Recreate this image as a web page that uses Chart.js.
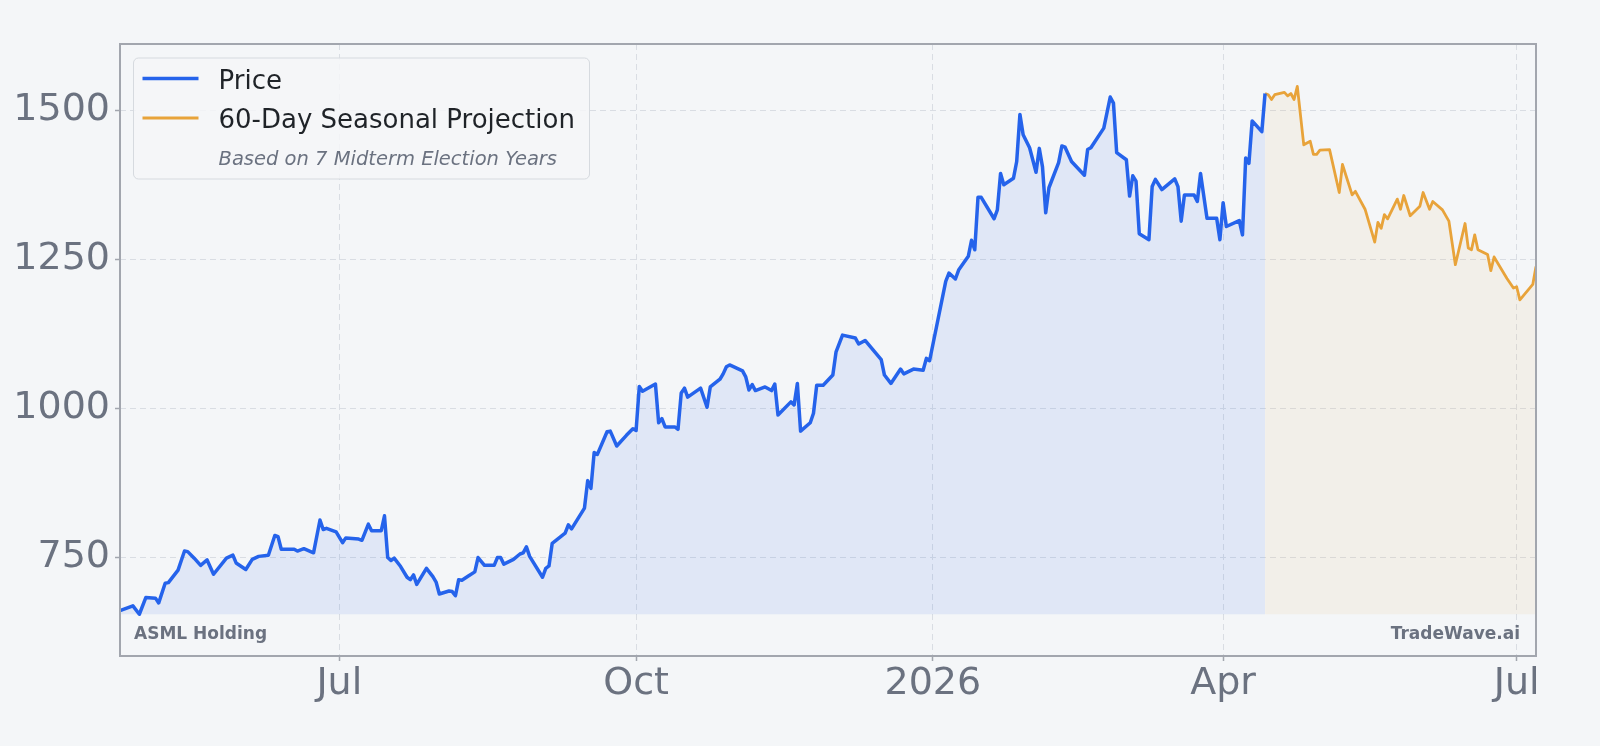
<!DOCTYPE html>
<html>
<head>
<meta charset="utf-8">
<title>ASML Holding - Price and 60-Day Seasonal Projection</title>
<script src="https://cdn.jsdelivr.net/npm/chart.js@4.4.1/dist/chart.umd.min.js"></script>
<style>
    html, body { margin: 0; padding: 0; background: #f4f6f8; }
    canvas { display: block; }
</style>
</head>
<body>
<canvas id="seasonalChart" width="1600" height="746"></canvas>
<script>
// All x values are days counted from 2025-07-01
const BASE_DATE = '2025-07-01';

// Daily close
const priceDays = [
    -68, -64, -62, -60, -57, -56, -54, -53, -50, -48, -47, -45, -43, -41, -39, -35, -33, -32, -29, -27,
    -25, -22, -20, -19, -18, -14, -13, -11, -8, -6, -5, -4, -1, 1, 2, 6, 7, 9, 10, 13,
    14, 15, 16, 17, 19, 21, 22, 23, 24, 27, 29, 30, 31, 34, 35, 36, 37, 38, 40, 42,
    43, 45, 48, 49, 50, 51, 54, 56, 57, 58, 59, 63, 64, 65, 66, 70, 71, 72, 76, 77,
    78, 79, 80, 83, 84, 86, 89, 91, 92, 93, 94, 98, 99, 100, 101, 104, 105, 106, 107, 108,
    112, 114, 115, 118, 119, 120, 121, 125, 126, 127, 128, 129, 132, 134, 135, 136, 140, 141, 142, 143,
    146, 147, 148, 150, 153, 154, 156, 160, 161, 163, 168, 169, 171, 174, 175, 178, 181, 182, 183, 188,
    189, 191, 192, 195, 196, 197, 198, 199, 203, 204, 205, 206, 209, 210, 211, 212, 214, 216, 217, 218,
    219, 220, 223, 224, 225, 227, 231, 232, 233, 237, 239, 240, 241, 244, 245, 246, 247, 248, 251, 252,
    253, 255, 259, 260, 261, 262, 265, 266, 267, 269, 272, 273, 274, 275, 279, 280, 281, 282, 283, 286,
    287
];
const priceValues = [
    661, 669, 655, 683, 682, 674, 707, 708, 729, 761, 760, 749, 737, 746, 722, 749, 754, 741, 730, 747,
    752, 754, 787, 785, 764, 764, 761, 765, 758, 813, 797, 799, 793, 775, 783, 781, 779, 806, 795, 795,
    820, 750, 745, 749, 735, 717, 713, 721, 705, 732, 718, 709, 689, 694, 693, 686, 713, 712, 719, 726,
    750, 737, 737, 750, 750, 739, 747, 756, 758, 768, 752, 717, 732, 736, 774, 791, 805, 798, 833, 879,
    866, 926, 923, 961, 962, 937, 955, 966, 963, 1037, 1029, 1041, 976, 983, 969, 969, 965, 1026, 1034, 1019,
    1034, 1002, 1036, 1049, 1058, 1070, 1073, 1063, 1053, 1031, 1040, 1030, 1036, 1030, 1041, 989, 1011, 1006, 1042, 962,
    976, 992, 1039, 1039, 1056, 1095, 1123, 1118, 1108, 1114, 1082, 1056, 1042, 1066, 1058, 1066, 1064, 1084, 1080, 1213,
    1227, 1217, 1232, 1255, 1282, 1266, 1354, 1354, 1318, 1333, 1394, 1375, 1386, 1414, 1493, 1459, 1437, 1396, 1436, 1405,
    1328, 1370, 1412, 1440, 1438, 1414, 1391, 1434, 1437, 1470, 1522, 1512, 1429, 1417, 1356, 1390, 1381, 1293, 1283, 1372,
    1384, 1367, 1385, 1372, 1314, 1358, 1358, 1347, 1394, 1319, 1319, 1283, 1345, 1305, 1315, 1291, 1420, 1411, 1482, 1464,
    1528
];

// 60-day seasonal projection (midterm election years)
const projectionDays = [
    287, 288, 289, 290, 293, 294, 295, 296, 297, 299, 301, 302, 303, 304, 307, 310, 311, 314, 315, 318,
    321, 322, 323, 324, 325, 328, 329, 330, 332, 335, 336, 338, 339, 342, 344, 346, 349, 350, 351, 352,
    353, 356, 357, 358, 362, 364, 365, 366, 370, 371
];
const projectionValues = [
    1528, 1526, 1518, 1526, 1530, 1524, 1528, 1518, 1540, 1442, 1448, 1426, 1426, 1433, 1434, 1362, 1409, 1358, 1364, 1334,
    1279, 1312, 1302, 1325, 1318, 1351, 1334, 1357, 1323, 1339, 1362, 1334, 1347, 1333, 1314, 1241, 1310, 1269, 1266, 1291,
    1266, 1258, 1231, 1254, 1218, 1202, 1204, 1182, 1208, 1238
];

// Axis ticks
const xTickDates = ['2025-07-01', '2025-10-01', '2026-01-01', '2026-04-01', '2026-07-01'];
const xTickLabels = ['Jul', 'Oct', '2026', 'Apr', 'Jul'];
const yTicks = [750, 1000, 1250, 1500];

function toDay(dateStr) {
    const [y, m, d] = dateStr.split('-').map(Number);
    const [by, bm, bd] = BASE_DATE.split('-').map(Number);
    return Math.round((Date.UTC(y, m - 1, d) - Date.UTC(by, bm - 1, bd)) / 86400000);
}

const fillBase = Math.min(...priceValues);
const tickFont = { size: 38, family: 'DejaVu Sans' };

// Frame, watermarks and the legend box
const decorations = {
    id: 'decorations',
    beforeDraw(chart) {
        const ctx = chart.ctx;
        ctx.save();
        ctx.fillStyle = '#f4f6f8';
        ctx.fillRect(0, 0, chart.width, chart.height);
        ctx.restore();
    },
    afterDraw(chart) {
        const { ctx, chartArea: a } = chart;
        ctx.save();

        ctx.strokeStyle = '#a2a6ae';
        ctx.lineWidth = 2;
        ctx.strokeRect(a.left, a.top, a.right - a.left, a.bottom - a.top);

        ctx.font = 'bold 17px "DejaVu Sans"';
        ctx.fillStyle = '#6b7280';
        ctx.textBaseline = 'alphabetic';
        ctx.textAlign = 'left';
        ctx.fillText('ASML Holding', a.left + 14, a.bottom - 17);
        ctx.textAlign = 'right';
        ctx.fillText('TradeWave.ai', a.right - 16, a.bottom - 17);

        // legend
        const lx = a.left + 13.5, ly = a.top + 14;
        ctx.beginPath();
        ctx.roundRect(lx, ly, 456, 121, 5);
        ctx.fillStyle = 'rgba(244, 246, 248, 0.85)';
        ctx.fill();
        ctx.strokeStyle = '#d6dadf';
        ctx.lineWidth = 1;
        ctx.stroke();

        ctx.lineCap = 'butt';
        ctx.strokeStyle = '#2563eb';
        ctx.lineWidth = 3.5;
        ctx.beginPath();
        ctx.moveTo(lx + 9, ly + 20.5);
        ctx.lineTo(lx + 65, ly + 20.5);
        ctx.stroke();

        ctx.strokeStyle = '#e8a33a';
        ctx.lineWidth = 2.8;
        ctx.beginPath();
        ctx.moveTo(lx + 9, ly + 60);
        ctx.lineTo(lx + 65, ly + 60);
        ctx.stroke();

        ctx.textAlign = 'left';
        ctx.fillStyle = '#1f2328';
        ctx.font = '26px "DejaVu Sans"';
        ctx.fillText('Price', lx + 85, ly + 31);
        ctx.fillText('60-Day Seasonal Projection', lx + 85, ly + 70);

        ctx.fillStyle = '#6b7280';
        ctx.font = 'italic 19.5px "DejaVu Sans"';
        ctx.fillText('Based on 7 Midterm Election Years', lx + 85, ly + 107);

        ctx.restore();
    }
};

const ctx = document.getElementById('seasonalChart').getContext('2d');
const seasonalChart = new Chart(ctx, {
    type: 'line',
    data: {
        datasets: [{
            label: 'Price',
            data: priceDays.map((d, i) => ({ x: d, y: priceValues[i] })),
            borderColor: '#2563eb',
            backgroundColor: 'rgba(37, 99, 235, 0.095)',
            borderWidth: 3.5,
            borderJoinStyle: 'round',
            pointRadius: 0,
            tension: 0,
            fill: { value: fillBase }
        }, {
            label: '60-Day Seasonal Projection',
            data: projectionDays.map((d, i) => ({ x: d, y: projectionValues[i] })),
            borderColor: '#e8a33a',
            backgroundColor: 'rgba(233, 162, 59, 0.08)',
            borderWidth: 2.8,
            borderJoinStyle: 'round',
            pointRadius: 0,
            tension: 0,
            fill: { value: fillBase }
        }]
    },
    options: {
        responsive: false,
        animation: false,
        layout: {
            padding: { top: 44, right: 64, left: 0, bottom: 0 }
        },
        plugins: {
            legend: { display: false },
            tooltip: { enabled: false }
        },
        scales: {
            x: {
                type: 'linear',
                min: priceDays[0],
                max: projectionDays[projectionDays.length - 1],
                afterBuildTicks: axis => {
                    axis.ticks = xTickDates.map(d => ({ value: toDay(d) }));
                },
                afterFit: axis => { axis.height = 90; },
                ticks: {
                    autoSkip: false,
                    maxRotation: 0,
                    padding: 0,
                    color: '#6b7280',
                    font: tickFont,
                    callback: (value, index) => xTickLabels[index]
                },
                grid: {
                    color: '#d9dde3',
                    lineWidth: 1,
                    drawTicks: true,
                    tickLength: 5,
                    tickColor: '#a2a6ae',
                    tickWidth: 1.5,
                    tickBorderDash: []
                },
                border: { display: false, dash: [6, 4] }
            },
            y: {
                min: 585,
                max: 1611,
                afterBuildTicks: axis => {
                    axis.ticks = yTicks.map(v => ({ value: v }));
                },
                afterFit: axis => { axis.width = 120; },
                ticks: {
                    padding: 5,
                    color: '#6b7280',
                    font: tickFont,
                    callback: value => String(value)
                },
                grid: {
                    color: '#d9dde3',
                    lineWidth: 1,
                    drawTicks: true,
                    tickLength: 5,
                    tickColor: '#a2a6ae',
                    tickWidth: 1.5,
                    tickBorderDash: []
                },
                border: { display: false, dash: [6, 4] }
            }
        }
    },
    plugins: [decorations]
});
</script>
</body>
</html>
